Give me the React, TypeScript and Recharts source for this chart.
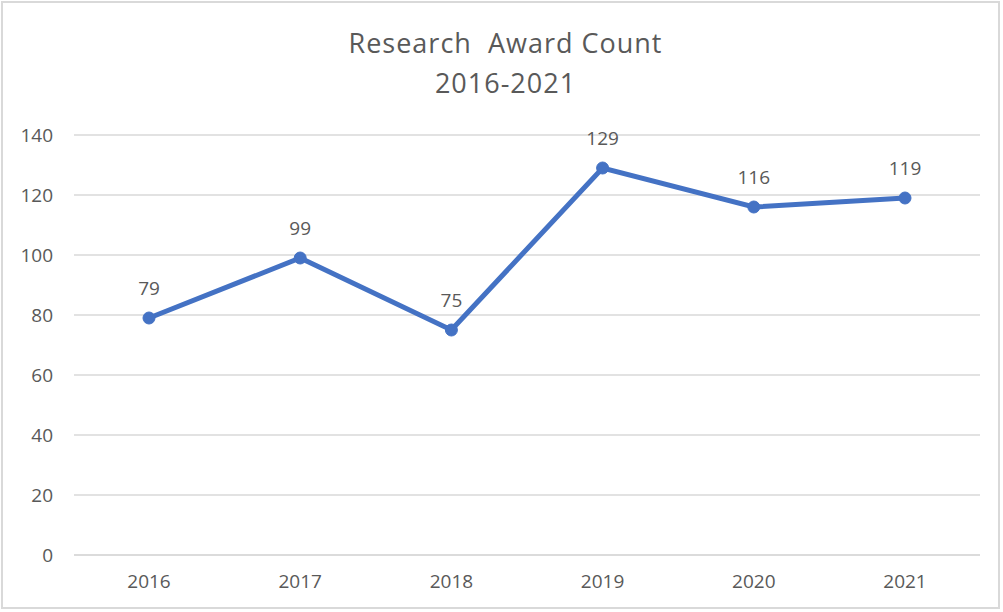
import React from "react"
import { LineChart, Line, XAxis, YAxis, CartesianGrid, LabelList } from "recharts"

const years = ["2016", "2017", "2018", "2019", "2020", "2021"]
const awards = [79, 99, 75, 129, 116, 119]
const yTicks = [0, 20, 40, 60, 80, 100, 120, 140]

const data = years.map((year, i) => ({ year, awards: awards[i] }))

const FONT = "'Open Sans', 'Liberation Sans', sans-serif"
const TEXT = "#595959"
const BLUE = "#4472C4"

export default function App() {
  return (
    <div style={{ position: "absolute", left: 0, top: 0, width: 1003, height: 612, background: "#fff", fontFamily: FONT }}>
      <div
        style={{
          position: "absolute",
          left: 1,
          top: 1,
          width: 999,
          height: 608,
          border: "2px solid #d9d9d9",
          boxSizing: "border-box",
        }}
      />
      <div
        style={{
          position: "absolute",
          left: 4,
          top: 23,
          width: 1003,
          textAlign: "center",
          color: TEXT,
          fontSize: 27,
          letterSpacing: 1,
          lineHeight: "40px",
        }}
      >
        <div>Research&nbsp; Award Count</div>
        <div>2016-2021</div>
      </div>
      <LineChart width={1003} height={612} data={data} margin={{ top: 135, right: 23, bottom: 0, left: 0 }}>
        <CartesianGrid vertical={false} stroke="#d9d9d9" strokeWidth={1.5} />
        <XAxis
          dataKey="year"
          height={57}
          padding={{ left: 75, right: 75 }}
          axisLine={{ stroke: "#d9d9d9", strokeWidth: 1.5 }}
          tickLine={false}
          tickSize={0}
          tickMargin={20}
          tick={{ fill: TEXT, fontSize: 19, fontFamily: FONT }}
        />
        <YAxis
          width={74}
          domain={[0, 140]}
          ticks={yTicks}
          axisLine={false}
          tickLine={false}
          tickSize={0}
          tickMargin={21}
          tick={{ fill: TEXT, fontSize: 19, fontFamily: FONT }}
        />
        <Line
          type="linear"
          dataKey="awards"
          stroke={BLUE}
          strokeWidth={5}
          dot={{ r: 6, fill: BLUE, stroke: BLUE, strokeWidth: 1 }}
          isAnimationActive={false}
        >
          <LabelList dataKey="awards" position="top" offset={23} fill={TEXT} fontSize={19} fontFamily={FONT} />
        </Line>
      </LineChart>
    </div>
  )
}
